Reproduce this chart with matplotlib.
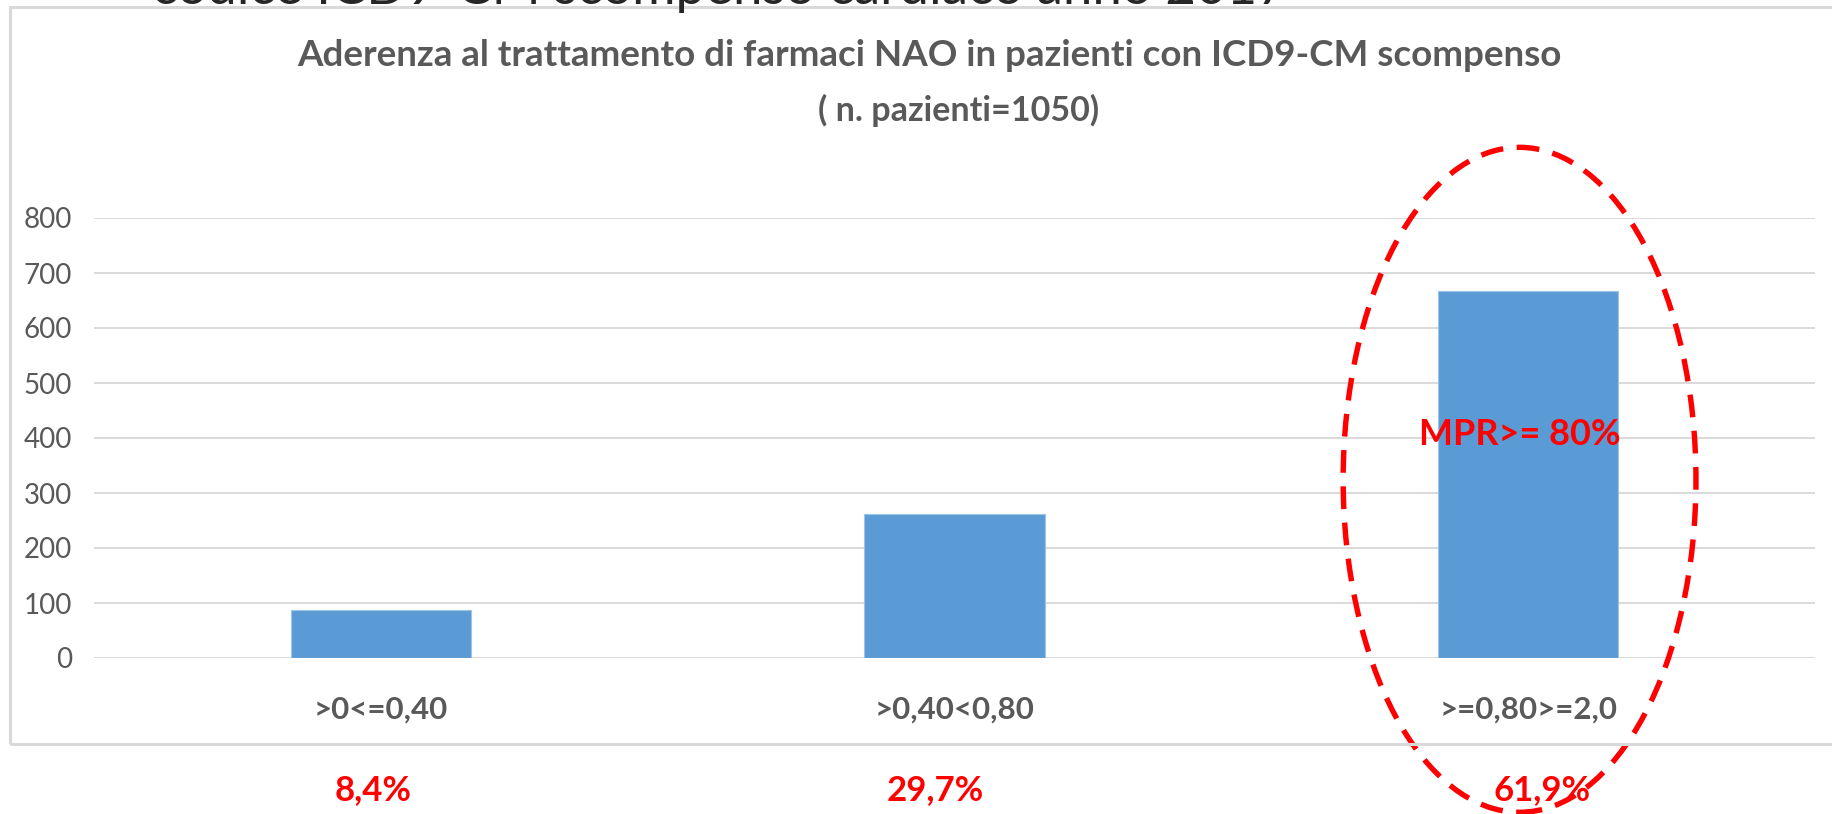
import matplotlib
matplotlib.use("Agg")
import matplotlib.pyplot as plt
from matplotlib.patches import Ellipse, Rectangle

# data
categories = [">0<=0,40", ">0,40<0,80", ">=0,80>=2,0"]
pazienti = [88, 262, 668]
percentuali = ["8,4%", "29,7%", "61,9%"]
yticks = [0, 100, 200, 300, 400, 500, 600, 700, 800]

title1 = "Aderenza al trattamento di farmaci NAO in pazienti con ICD9-CM scompenso"
title2 = "( n. pazienti=1050)"
slide_title = "codice ICD9-CM scompenso cardiaco anno 2017"

plt.rcParams['font.family'] = ['Lato', 'DejaVu Sans']

W, H = 1832, 814
fig = plt.figure(figsize=(W / 100, H / 100), dpi=100)
fig.patch.set_facecolor("white")

# plot area in pixels: x 94..1815, y 218..658
ax = fig.add_axes([94 / W, (H - 658) / H, (1815 - 94) / W, 440 / H])

x = list(range(len(categories)))
ax.bar(x, pazienti, width=0.314, color="#5B9BD5", edgecolor="#9DC3E6",
       linewidth=0.8, zorder=3)

ax.set_xlim(-0.5, 2.5)
ax.set_ylim(0, 800)
ax.set_yticks(yticks)
ax.grid(axis="y", color="#d9d9d9", linewidth=1.4, zorder=0)
ax.set_axisbelow(True)
for s in ax.spines.values():
    s.set_visible(False)
ax.tick_params(axis="both", length=0)
ax.tick_params(axis="y", labelsize=20, labelcolor="#595959", pad=16)
ax.set_xticks(x)
ax.set_xticklabels(categories, fontsize=22.5, fontweight="bold", color="#595959")
ax.tick_params(axis="x", pad=27)

# outer chart frame
fig.add_artist(Rectangle((10 / W, (H - 744) / H), (W + 20) / W, (744 - 7) / H,
                         transform=fig.transFigure, fill=False,
                         edgecolor="#d9d9d9", linewidth=2.2))

# cut-off slide title at the very top
fig.text(152 / W, 1 - 4 / H, slide_title, fontsize=38, color="#262626",
         ha="left", va="baseline")

fig.text(929 / W, 1 - 56 / H, title1, fontsize=26.5, fontweight="bold",
         color="#595959", ha="center", va="center")
fig.text(959 / W, 1 - 110 / H, title2, fontsize=24.5, fontweight="bold",
         color="#595959", ha="center", va="center")

# percentages below the chart
offsets = [-0.014, -0.034, 0.024]
for i, p in enumerate(percentuali):
    ax.text(x[i] + offsets[i], -240, p, fontsize=25, fontweight="bold",
            color="#ff0000", ha="center", va="center", clip_on=False)

ax.text(1.985, 406, "MPR>= 80%", fontsize=26, fontweight="bold",
        color="#ff0000", ha="center", va="center", zorder=5)

ell = Ellipse((1.985, 324), 0.615, 1209, fill=False, edgecolor="#ff0000",
              linewidth=3.9, linestyle=(0, (4.2, 2.5)), clip_on=False, zorder=6)
ax.add_patch(ell)

fig.savefig("out.png", dpi=100)
